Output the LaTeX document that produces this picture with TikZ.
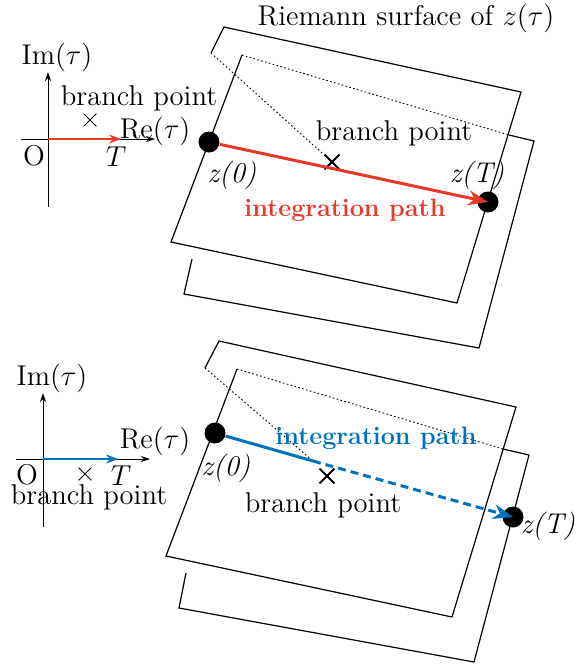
\documentclass[tikz,border=0pt]{standalone}
\usetikzlibrary{arrows.meta,shapes.misc,positioning,calc}
\definecolor{pathred}{RGB}{230,57,40}
\definecolor{pathblue}{RGB}{0,114,188}
\tikzset{
    sheet/.style={
        draw=black,
        line width=0.6pt,
    },
    cut/.style={
        draw=black,
        line width=0.45pt,
        dash pattern=on 0.8pt off 1.2pt,
    },
    axis/.style={
        draw=black,
        line width=0.45pt,
        -{Stealth[length=4.5pt,width=3pt]},
    },
    endpoint/.style={
        circle,
        fill=black,
        minimum size=10.5pt,
        inner sep=0pt,
    },
    branch/.style={
        cross out,
        draw=black,
        line width=0.9pt,
        minimum size=6.5pt,
        inner sep=0pt,
    },
    branch-axis/.style={
        cross out,
        draw=black,
        line width=0.4pt,
        minimum size=6pt,
        inner sep=0pt,
    },
    ipath/.style={
        line width=1.5pt,
        -{Stealth[length=10pt,width=7.5pt]},
    },
    tpath/.style={
        line width=1.4pt,
        -{Stealth[length=6pt,width=4.5pt]},
    },
    ilabel/.style={
        font=\fontsize{12.6pt}{15pt}\selectfont\bfseries,
    },
    every node/.append style={
        font=\fontsize{14.3pt}{17pt}\selectfont,
        inner sep=0pt,
    },
}

\begin{document}
\begin{tikzpicture}[x=0.5pt,y=-0.5pt]
    \useasboundingbox (0,0) rectangle (585,666);

    % upper picture: tau plane
    \coordinate (O1) at (48,139);
    \coordinate (T1) at (121,139);
    \coordinate (imtop1) at (48,72);
    \coordinate (imbot1) at (48,207);
    \coordinate (retop1) at (155,139);
    \coordinate (rebot1) at (21,139);
    \draw[axis] (imbot1) -- (imtop1);
    \draw[axis] (rebot1) -- (retop1);
    \draw[tpath,pathred] (O1) -- (T1);
    \node at (57,57) {Im($\tau$)};
    \node at (155,131) {Re($\tau$)};
    \node at (139,98) {branch point};
    \node[branch-axis] (bpt1) at (90,120) {};
    \node at (34,156) {O};
    \node at (116,157) {$T$};

    % upper picture: Riemann surface
    \draw[sheet] (211,53) -- (224,27) -- (521,92) -- (457,303) -- (171,242) -- (242,55);
    \draw[cut] (242,55) -- (509,135);
    \draw[sheet] (509,135) -- (534,141) -- (479,348) -- (184,294) -- (192,259);
    \node[branch] (bpa) at (332,162) {};
    \draw[cut] (211,53) -- (bpa.center);
    \node at (406,18) {Riemann surface of $z(\tau)$};
    \node at (394,133) {branch point};
    \node[endpoint] (z0a) at (209,142) {};
    \node[endpoint] (zTa) at (488,202) {};
    \node at (232,175) {\textit{z(0)}};
    \node at (477,175) {\textit{z(T)}};
    \draw[ipath,pathred] (z0a) -- (zTa.center);
    \node[ilabel,pathred] at (345,210) {integration path};

    % lower picture: tau plane
    \coordinate (O2) at (43,459);
    \coordinate (T2) at (118,459);
    \coordinate (imtop2) at (43,393);
    \coordinate (imbot2) at (43,527);
    \coordinate (retop2) at (150,459);
    \coordinate (rebot2) at (16,459);
    \draw[axis] (imbot2) -- (imtop2);
    \draw[axis] (rebot2) -- (retop2);
    \draw[tpath,pathblue] (O2) -- (T2);
    \node at (52,378) {Im($\tau$)};
    \node at (155,441) {Re($\tau$)};
    \node at (27,475) {O};
    \node[branch-axis] (bpt2) at (85,474) {};
    \node at (121,476) {$T$};
    \node at (89,497) {branch point};

    % lower picture: Riemann surface
    \draw[sheet] (205,368) -- (219,341) -- (516,407) -- (452,617) -- (166,556) -- (237,369);
    \draw[cut] (237,369) -- (503,449);
    \draw[sheet] (503,449) -- (529,455) -- (474,662) -- (179,608) -- (186,573);
    \coordinate (over) at (313,461);
    \draw[cut] (205,368) -- (over);
    \node[branch] (bpb) at (327,476) {};
    \node at (323,505) {branch point};
    \node[endpoint] (z0b) at (215,433) {};
    \node[endpoint] (zTb) at (513,517) {};
    \node at (226,468) {\textit{z(0)}};
    \node at (548,526) {\textit{z(T)}};
    \draw[pathblue,line width=1.5pt] (z0b) -- (over);
    \draw[ipath,pathblue,dash pattern=on 4pt off 2.5pt] (over) -- (zTb.center);
    \node[ilabel,pathblue] at (376,438) {integration path};
\end{tikzpicture}
\end{document}
